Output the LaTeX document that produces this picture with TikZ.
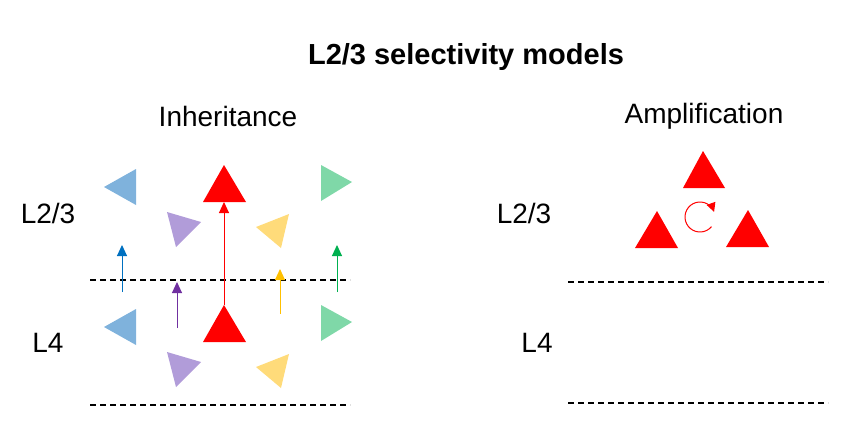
\documentclass[tikz,border=0pt]{standalone}
\usepackage{fontspec}
\setmainfont{Liberation Sans}
\usetikzlibrary{arrows.meta}
\begin{document}
\begin{tikzpicture}[x=1pt,y=-1pt,
  lbl/.style={font=\fontsize{28}{32}\selectfont},
  dline/.style={black,line width=1.5pt,dash pattern=on 6pt off 4pt},
  up/.style={line width=1pt,-{Triangle[length=11pt,width=10pt]}}]
\definecolor{tb}{HTML}{7FB2DC}\definecolor{tp}{HTML}{B19CD9}
\definecolor{ty}{HTML}{FFDB7A}\definecolor{tg}{HTML}{7FD8A8}
\definecolor{ab}{HTML}{0070C0}\definecolor{ap}{HTML}{7030A0}
\definecolor{ay}{HTML}{FFC000}\definecolor{ag}{HTML}{00B050}
\path[use as bounding box] (0,0) rectangle (848,437);
\node[font=\bfseries\fontsize{29}{33}\selectfont] (title) at (466,57) {L2/3 selectivity models};
\node[lbl] (inh) at (228,116) {Inheritance};
\node[lbl] (amp) at (704,116) {Amplification};
\node[lbl] (l23a) at (48,213) {L2/3};
\node[lbl] (l4a) at (48,343) {L4};
\node[lbl] (l23b) at (524,213) {L2/3};
\node[lbl] (l4b) at (537,343) {L4};
% triangles
\foreach \d in {0,140}{
\fill[tb] (104,187+\d) -- (136,169+\d) -- (136,205+\d) -- cycle;
\fill[tg] (352,182+\d) -- (321,165+\d) -- (321,201+\d) -- cycle;
\fill[tp] (167,212+\d) -- (201,222+\d) -- (176,247+\d) -- cycle;
\fill[ty] (256,227+\d) -- (289,214+\d) -- (281,248+\d) -- cycle;
\fill[red] (224,165+\d) -- (246,202+\d) -- (203,202+\d) -- cycle;
}
\draw[dline] (90,280) -- (350,280);
\draw[dline] (90,405) -- (350,405);
\coordinate (b0) at (122,292); \coordinate (b1) at (122,245);
\coordinate (g0) at (337,292); \coordinate (g1) at (337,245);
\coordinate (p0) at (177,328); \coordinate (p1) at (177,282);
\coordinate (y0) at (280,314); \coordinate (y1) at (280,269);
\coordinate (r0) at (224,305); \coordinate (r1) at (224,202);
\draw[up,ab] (b0) -- (b1);
\draw[up,ag] (g0) -- (g1);
\draw[up,ap] (p0) -- (p1);
\draw[up,ay] (y0) -- (y1);
\draw[up,red] (r0) -- (r1);
% amplification
\fill[red] (703,151) -- (725,188) -- (683,188) -- cycle;
\fill[red] (657,211) -- (678,248) -- (635,248) -- cycle;
\fill[red] (748,210) -- (769,247) -- (726,247) -- cycle;
\coordinate (c) at (700,217);
\draw[red,line width=1pt,-{Triangle[length=9pt,width=9pt]}] ([shift={(40:15)}]c) arc[start angle=40,end angle=340,radius=15];
\draw[dline] (568,282) -- (828,282);
\draw[dline] (568,403) -- (828,403);
\end{tikzpicture}
\end{document}
